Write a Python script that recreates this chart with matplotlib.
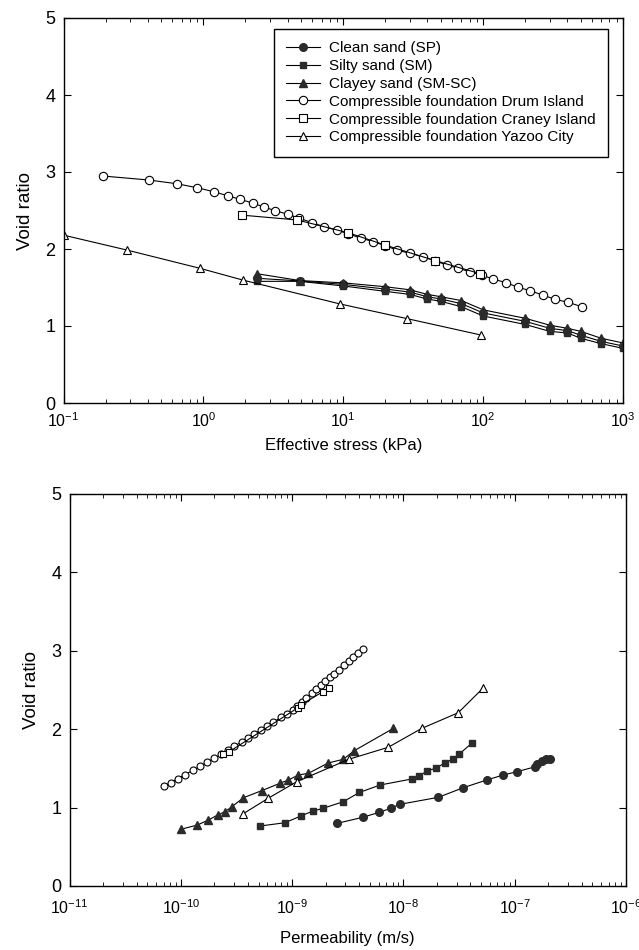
import matplotlib
matplotlib.use('Agg')
import matplotlib.pyplot as plt
from matplotlib.ticker import LogLocator, NullFormatter, FixedLocator, LogFormatterSciNotation

plt.rcParams['font.family'] = ['Liberation Sans', 'DejaVu Sans']
plt.rcParams['mathtext.fontset'] = 'custom'
plt.rcParams['mathtext.rm'] = 'Liberation Sans'
plt.rcParams['mathtext.it'] = 'Liberation Sans'

# ---------------- Top panel data: effective stress (kPa) vs void ratio ----------------
stress_sand = [2.4, 4.9, 10, 20, 30, 40, 50, 70, 100, 200, 300, 400, 500, 700, 1000]
e_clean_sand = [1.62, 1.585, 1.54, 1.48, 1.44, 1.38, 1.35, 1.29, 1.17, 1.06, 0.97, 0.94, 0.88, 0.80, 0.74]
e_silty_sand = [1.58, 1.58, 1.52, 1.45, 1.41, 1.35, 1.32, 1.25, 1.13, 1.02, 0.93, 0.91, 0.84, 0.77, 0.71]
e_clayey_sand = [1.68, 1.59, 1.56, 1.51, 1.47, 1.41, 1.38, 1.33, 1.21, 1.10, 1.01, 0.97, 0.93, 0.84, 0.78]

stress_drum = [0.191, 0.407, 0.644, 0.904, 1.185, 1.49, 1.83, 2.25, 2.71, 3.27, 4.03, 4.85, 6.0, 7.24,
               8.97, 10.9, 13.5, 16.4, 20.0, 24.1, 30.0, 36.9, 45.2, 54.8, 66.4, 80.4, 97.5, 118, 146,
               178, 216, 266, 326, 405, 506]
e_drum = [2.948, 2.896, 2.848, 2.796, 2.744, 2.692, 2.645, 2.597, 2.545, 2.497, 2.451, 2.399, 2.342,
          2.290, 2.247, 2.195, 2.139, 2.095, 2.043, 1.987, 1.944, 1.900, 1.848, 1.792, 1.749, 1.705,
          1.662, 1.610, 1.562, 1.503, 1.459, 1.403, 1.347, 1.308, 1.251]

stress_craney = [1.88, 4.69, 10.9, 20.0, 45.2, 94.9]
e_craney = [2.44, 2.377, 2.21, 2.05, 1.85, 1.68]

stress_yazoo = [0.1, 0.283, 0.946, 1.91, 9.5, 28.7, 96.4]
e_yazoo = [2.18, 1.987, 1.749, 1.597, 1.286, 1.095, 0.883]

# ---------------- Bottom panel data: permeability (m/s) vs void ratio ----------------
k_clean_sand = [2.55e-9, 4.31e-9, 6.07e-9, 7.69e-9, 9.31e-9, 2.06e-8, 3.45e-8, 5.60e-8, 7.9e-8,
                1.05e-7, 1.52e-7, 1.60e-7, 1.75e-7, 1.91e-7, 2.07e-7]
ek_clean_sand = [0.80, 0.876, 0.94, 0.991, 1.042, 1.131, 1.254, 1.352, 1.416, 1.458, 1.52, 1.556,
                 1.598, 1.616, 1.62]

k_silty_sand = [5.15e-10, 8.63e-10, 1.20e-9, 1.54e-9, 1.90e-9, 2.88e-9, 4.02e-9, 6.17e-9, 1.19e-8,
                1.39e-8, 1.64e-8, 1.95e-8, 2.37e-8, 2.77e-8, 3.18e-8, 4.11e-8]
ek_silty_sand = [0.765, 0.807, 0.893, 0.957, 0.991, 1.075, 1.193, 1.288, 1.365, 1.403, 1.471, 1.50,
                 1.573, 1.616, 1.684, 1.82]

k_clayey_sand = [1.0e-10, 1.41e-10, 1.77e-10, 2.15e-10, 2.49e-10, 2.87e-10, 3.65e-10, 5.33e-10,
                 7.78e-10, 9.25e-10, 1.14e-9, 1.40e-9, 2.11e-9, 2.88e-9, 3.62e-9, 8.11e-9]
ek_clayey_sand = [0.723, 0.778, 0.842, 0.906, 0.948, 1.01, 1.126, 1.216, 1.31, 1.352, 1.416, 1.437,
                  1.569, 1.616, 1.726, 2.01]

k_drum = [7.03e-11, 8.13e-11, 9.40e-11, 1.09e-10, 1.30e-10, 1.50e-10, 1.73e-10, 2.00e-10, 2.32e-10,
          2.65e-10, 3.02e-10, 3.53e-10, 4.03e-10, 4.58e-10, 5.22e-10, 5.94e-10, 6.76e-10, 7.94e-10,
          9.04e-10, 1.01e-9, 1.11e-9, 1.22e-9, 1.34e-9, 1.50e-9, 1.64e-9, 1.81e-9, 1.99e-9, 2.18e-9,
          2.40e-9, 2.64e-9, 2.95e-9, 3.24e-9, 3.56e-9, 3.92e-9, 4.31e-9]
ek_drum = [1.27, 1.32, 1.37, 1.42, 1.48, 1.53, 1.58, 1.63, 1.68, 1.73, 1.78, 1.84, 1.89, 1.94, 1.99,
           2.04, 2.09, 2.15, 2.20, 2.25, 2.30, 2.35, 2.40, 2.46, 2.51, 2.56, 2.61, 2.66, 2.71, 2.76,
           2.82, 2.87, 2.92, 2.97, 3.02]

k_craney = [2.4e-10, 2.7e-10, 1.12e-9, 1.2e-9, 1.9e-9, 2.15e-9]
ek_craney = [1.68, 1.71, 2.27, 2.31, 2.48, 2.52]

k_yazoo = [3.6e-10, 6.1e-10, 1.10e-9, 3.24e-9, 7.3e-9, 1.46e-8, 3.11e-8, 5.16e-8]
ek_yazoo = [0.918, 1.119, 1.33, 1.617, 1.769, 2.01, 2.21, 2.52]

labels = ['Clean sand (SP)', 'Silty sand (SM)', 'Clayey sand (SM-SC)',
          'Compressible foundation Drum Island', 'Compressible foundation Craney Island',
          'Compressible foundation Yazoo City']

W, H = 639, 950
fig = plt.figure(figsize=(W / 100, H / 100), dpi=100)

def px_axes(l, r, t, b):
    return [l / W, 1 - b / H, (r - l) / W, (b - t) / H]

ax1 = fig.add_axes(px_axes(63.5, 623, 18, 403))
ax2 = fig.add_axes(px_axes(69.5, 626, 494, 886))

dark = '#2b2b2b'
lw = 0.8
filled = dict(color='black', lw=lw, mfc=dark, mec=dark)
hollow = dict(color='black', lw=lw, mfc='white', mec='black', mew=0.8)

# top panel
ax1.plot(stress_sand, e_clean_sand, marker='o', ms=5.5, label=labels[0], **filled)
ax1.plot(stress_sand, e_silty_sand, marker='s', ms=5, label=labels[1], **filled)
ax1.plot(stress_sand, e_clayey_sand, marker='^', ms=5.5, label=labels[2], **filled)
ax1.plot(stress_drum, e_drum, marker='o', ms=6, label=labels[3], **hollow)
ax1.plot(stress_craney, e_craney, marker='s', ms=5.5, label=labels[4], **hollow)
ax1.plot(stress_yazoo, e_yazoo, marker='^', ms=6, label=labels[5], **hollow)

# bottom panel
ax2.plot(k_clean_sand, ek_clean_sand, marker='o', ms=5.5, **filled)
ax2.plot(k_silty_sand, ek_silty_sand, marker='s', ms=5, **filled)
ax2.plot(k_clayey_sand, ek_clayey_sand, marker='^', ms=5.5, **filled)
ax2.plot(k_drum, ek_drum, marker='o', ms=5, **hollow)
ax2.plot(k_craney, ek_craney, marker='s', ms=5, **hollow)
ax2.plot(k_yazoo, ek_yazoo, marker='^', ms=6, **hollow)

for ax, (xl, xr) in ((ax1, (1e-1, 1e3)), (ax2, (1e-11, 1e-6))):
    ax.set_xscale('log')
    ax.set_xlim(xl, xr)
    ax.set_ylim(0, 5)
    ax.yaxis.set_major_locator(FixedLocator([0, 1, 2, 3, 4, 5]))
    ax.xaxis.set_major_locator(LogLocator(base=10, numticks=20))
    ax.xaxis.set_minor_locator(LogLocator(base=10, subs=range(2, 10), numticks=20))
    ax.xaxis.set_minor_formatter(NullFormatter())
    ax.xaxis.set_major_formatter(LogFormatterSciNotation())
    ax.tick_params(which='both', direction='in', top=True, right=True, colors='black')
    ax.tick_params(which='major', length=5, width=0.8, labelsize=11.5, pad=6)
    ax.tick_params(which='minor', length=3, width=0.6)
    ax.tick_params(axis='y', labelsize=13)
    for s in ax.spines.values():
        s.set_linewidth(1.0)
    ax.set_ylabel('Void ratio', fontsize=13.5, labelpad=8)

ax2.tick_params(axis='x', which='major', pad=9)

ax1.set_xlabel('Effective stress (kPa)', fontsize=12, labelpad=6)
ax2.set_xlabel('Permeability (m/s)', fontsize=12, labelpad=10)

leg = ax1.legend(loc='upper right', bbox_to_anchor=(0.973, 0.971), fontsize=11,
                 frameon=True, fancybox=False, framealpha=1, edgecolor='black',
                 handlelength=2.2, handletextpad=0.6, labelspacing=0.25, borderpad=0.8,
                 borderaxespad=0)
leg.get_frame().set_linewidth(1.0)

fig.savefig('out.png', dpi=100)
